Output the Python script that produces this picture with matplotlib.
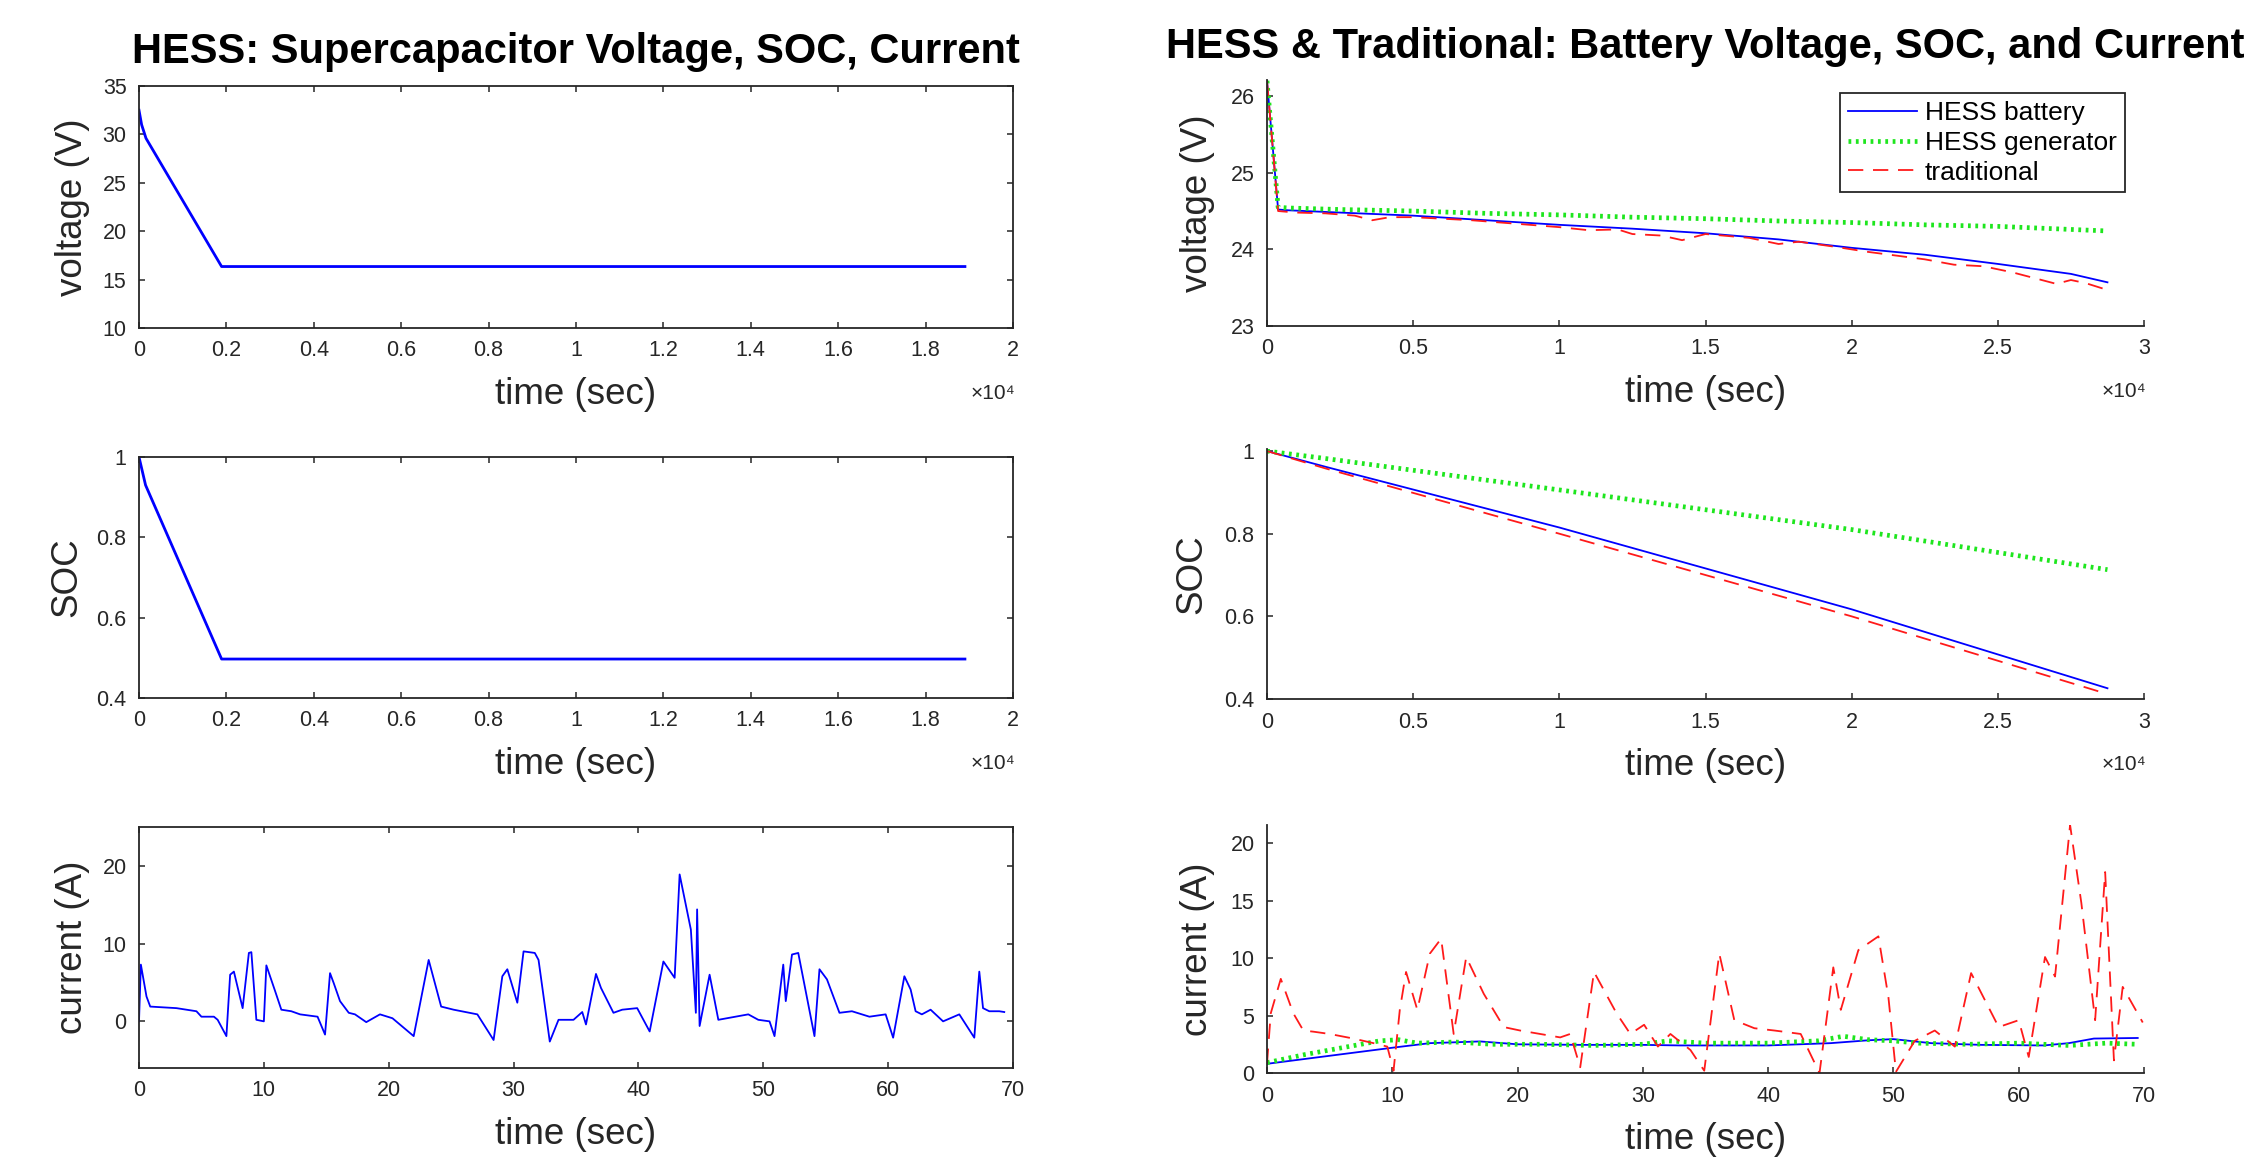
import matplotlib
matplotlib.use('Agg')
import matplotlib.pyplot as plt

plt.rcParams['font.family'] = ['Liberation Sans', 'DejaVu Sans']
plt.rcParams['lines.scale_dashes'] = False

# ---------------- data ----------------
# Supercapacitor (left column)
sc_v_t = [0, 60, 160, 1890, 18900]
sc_v = [32.5, 31.0, 29.6, 16.35, 16.35]
sc_soc_t = [0, 150, 1890, 18900]
sc_soc = [1.0, 0.93, 0.497, 0.497]
sc_i_t = [0, 0.15, 0.6, 0.9, 3.0, 4.6, 5.0, 6.0, 6.3, 7.0, 7.3, 7.6, 8.3, 8.8, 9.0, 9.4, 10.0,
          10.2, 10.9, 11.4, 12.2, 12.9, 14.3, 14.9, 15.3, 15.6, 16.1, 16.8, 17.3, 18.2, 19.3,
          20.3, 22.0, 23.2, 24.2, 25.2, 27.1, 28.4, 29.1, 29.5, 30.3, 30.8, 31.7, 32.0, 32.9,
          33.6, 34.8, 35.5, 35.8, 36.6, 37.0, 38.0, 38.7, 39.9, 40.9, 42.0, 42.9, 43.3, 44.2,
          44.6, 44.7, 44.9, 45.7, 46.4, 48.8, 49.6, 50.5, 50.9, 51.6, 51.8, 52.3, 52.8, 54.1,
          54.5, 55.1, 56.1, 57.1, 58.5, 59.8, 60.4, 61.3, 61.8, 62.2, 62.7, 63.4, 64.4, 65.7,
          66.9, 67.3, 67.6, 68.1, 68.9, 69.3]
sc_i = [0.0, 7.3, 3.2, 1.9, 1.7, 1.3, 0.6, 0.6, 0.2, -1.9, 6.0, 6.4, 1.7, 8.8, 8.9, 0.2, 0.0,
        7.2, 3.9, 1.5, 1.3, 0.9, 0.6, -1.7, 6.2, 4.9, 2.6, 1.1, 0.9, -0.1, 0.9,
        0.4, -1.9, 7.9, 1.9, 1.5, 0.9, -2.4, 5.8, 6.7, 2.4, 9.0, 8.8, 7.9, -2.6,
        0.2, 0.2, 1.2, -0.4, 6.1, 4.3, 1.1, 1.5, 1.7, -1.3, 7.7, 5.6, 18.9, 11.8,
        1.1, 14.4, -0.6, 6.0, 0.2, 0.9, 0.2, 0.0, -1.9, 7.3, 2.6, 8.6, 8.8, -1.9,
        6.7, 5.4, 1.1, 1.3, 0.6, 0.9, -2.1, 5.8, 4.1, 1.3, 0.9, 1.5, 0.0, 0.9,
        -2.1, 6.4, 1.7, 1.3, 1.3, 1.2]

# Battery (right column)
bat_v_t = [0, 380, 720, 2500, 5000, 7500, 10000, 12500, 15000, 17500, 20000, 22500, 25000, 27500, 28750]
hess_bat_v = [26.2, 24.52, 24.51, 24.48, 24.44, 24.38, 24.32, 24.27, 24.21, 24.13, 24.02, 23.93, 23.81, 23.68, 23.57]
hess_gen_v = [26.2, 24.55, 24.54, 24.52, 24.50, 24.47, 24.45, 24.42, 24.40, 24.37, 24.35, 24.32, 24.30, 24.26, 24.24]
trad_v_t = [0, 380, 1000, 2000, 3000, 3600, 4200, 5000, 6000, 7000, 8000, 9000, 10000, 11000, 12000,
            12500, 13500, 14200, 15000, 16500, 17500, 18200, 19500, 20500, 21500, 22500, 23500,
            24500, 25500, 26200, 27000, 27500, 28000, 28750]
trad_v = [26.2, 24.5, 24.48, 24.47, 24.44, 24.38, 24.42, 24.42, 24.40, 24.38, 24.35, 24.32, 24.29, 24.25, 24.26,
          24.20, 24.18, 24.12, 24.20, 24.15, 24.07, 24.10, 24.03, 23.97, 23.92, 23.87, 23.80,
          23.78, 23.70, 23.63, 23.55, 23.60, 23.56, 23.47]
soc_t = [0, 2000, 10000, 20000, 28750]
hess_bat_soc = [1.0, 0.962, 0.815, 0.617, 0.426]
hess_gen_soc = [1.0, 0.982, 0.906, 0.81, 0.713]
trad_soc = [1.0, 0.958, 0.80, 0.60, 0.412]

bat_i_t = [0, 5, 10, 13, 17, 20, 25, 30, 33, 40, 45, 48, 50, 53, 57, 62, 64, 66, 69.5]
hess_bat_i = [0.8, 1.5, 2.2, 2.6, 2.75, 2.5, 2.45, 2.45, 2.4, 2.4, 2.6, 2.85, 2.95, 2.6, 2.45, 2.4, 2.6, 3.0, 3.05]
gen_i_t = [0, 3, 7, 9, 10.5, 12, 15, 18, 22, 26, 30, 32, 35, 40, 44, 46, 48, 50, 52, 56, 60, 64, 67, 69.5]
hess_gen_i = [0.9, 1.6, 2.4, 2.8, 2.9, 2.6, 2.7, 2.5, 2.5, 2.4, 2.5, 2.8, 2.6, 2.6, 2.8, 3.2, 2.9, 2.8, 2.6, 2.5, 2.6, 2.4, 2.6, 2.5]
trad_i_t = [0, 0.3, 1.1, 2.1, 2.9, 3.7, 5.0, 6.9, 8.5, 9.6, 10.1, 10.6, 11.1, 12.0, 13.0, 13.9, 14.9,
            15.9, 17.3, 18.9, 20.2, 21.8, 23.4, 24.2, 25.0, 26.1, 27.9, 29.0, 30.1, 31.2, 32.2,
            33.8, 34.9, 36.1, 37.3, 38.9, 40.5, 42.6, 44.1, 45.2, 45.8, 47.2, 48.8, 49.6, 50.2,
            51.7, 53.3, 54.9, 56.2, 58.4, 60.0, 60.8, 62.1, 62.9, 64.1, 65.0, 66.1, 66.9, 67.6,
            68.3, 69.9]
trad_i = [0.8, 5.2, 8.2, 5.2, 3.7, 3.6, 3.4, 3.0, 2.6, 2.3, 0.2, 5.5, 8.8, 5.5, 10.4, 11.7, 3.4,
          10.1, 6.9, 4.0, 3.7, 3.4, 3.1, 3.4, 0.5, 8.8, 5.2, 3.4, 4.2, 2.3, 3.4,
          2.0, 0.2, 10.4, 4.6, 3.9, 3.7, 3.4, 0.0, 9.2, 5.5, 10.7, 11.9, 6.6, 0.1,
          2.8, 3.7, 2.3, 8.7, 4.0, 4.6, 1.4, 10.1, 8.4, 21.6, 14.8, 4.6, 17.5, 1.1,
          7.5, 4.4]

legend_labels = ['HESS battery', 'HESS generator', 'traditional']
titles = ['HESS: Supercapacitor Voltage, SOC, Current',
          'HESS & Traditional: Battery Voltage, SOC, and Current']

long_ticks_l = [0, 2000, 4000, 6000, 8000, 10000, 12000, 14000, 16000, 18000, 20000]
long_labels_l = ['0', '0.2', '0.4', '0.6', '0.8', '1', '1.2', '1.4', '1.6', '1.8', '2']
long_ticks_r = [0, 5000, 10000, 15000, 20000, 25000, 30000]
long_labels_r = ['0', '0.5', '1', '1.5', '2', '2.5', '3']
short_ticks = [0, 10, 20, 30, 40, 50, 60, 70]

# ---------------- styling ----------------
W, H = 2246, 1158
fig = plt.figure(figsize=(W / 100, H / 100), dpi=100)
GRAY = '0.15'
BLUE = '#0000ff'
GREEN = '#1ee61e'
RED = '#ff1a1a'
TICK_FS = 15.5
LABEL_FS = 26.5


def make_axes(x0, x1, y0, y1):
    return fig.add_axes([x0 / W, 1 - y1 / H, (x1 - x0) / W, (y1 - y0) / H])


def style(ax, box):
    ax.spines['top'].set_visible(box)
    ax.spines['right'].set_visible(box)
    for s in ax.spines.values():
        s.set_linewidth(1.3)
        s.set_color(GRAY)
    ax.tick_params(direction='in', length=4.5, width=1.1, color=GRAY, labelcolor=GRAY,
                   labelsize=TICK_FS, pad=9, top=box, right=box)
    ax.set_xlabel('time (sec)', fontsize=LABEL_FS, color=GRAY, labelpad=11)


def x1e4(ax):
    ax.annotate('\u00d710\u2074', xy=(1, 0), xycoords='axes fraction', xytext=(2, -47),
                textcoords='offset points', ha='right', va='center', fontsize=15, color=GRAY)


def trio(ax, tb, yb, tg, yg, tt, yt):
    l1, = ax.plot(tb, yb, color=BLUE, lw=1.3)
    l2, = ax.plot(tg, yg, color=GREEN, lw=3.4, linestyle=(0, (2, 3.3)), dash_capstyle='butt')
    l3, = ax.plot(tt, yt, color=RED, lw=1.3, linestyle=(0, (11, 7)))
    return [l1, l2, l3]


LX0, LX1 = 139, 1013
RX0, RX1 = 1267, 2144

# Left column
ax1 = make_axes(LX0, LX1, 86, 328)
ax1.plot(sc_v_t, sc_v, color=BLUE, lw=2.0)
ax1.set_xlim(0, 20000); ax1.set_ylim(10, 35)
ax1.set_xticks(long_ticks_l, long_labels_l)
ax1.set_yticks([10, 15, 20, 25, 30, 35])
style(ax1, True)
ax1.set_ylabel('voltage (V)', fontsize=LABEL_FS, color=GRAY, labelpad=9)
x1e4(ax1)

ax2 = make_axes(LX0, LX1, 457, 698)
ax2.plot(sc_soc_t, sc_soc, color=BLUE, lw=2.0)
ax2.set_xlim(0, 20000); ax2.set_ylim(0.4, 1.0)
ax2.set_xticks(long_ticks_l, long_labels_l)
ax2.set_yticks([0.4, 0.6, 0.8, 1.0], ['0.4', '0.6', '0.8', '1'])
style(ax2, True)
ax2.set_ylabel('SOC', fontsize=LABEL_FS, color=GRAY, labelpad=9)
x1e4(ax2)

ax3 = make_axes(LX0, LX1, 827, 1068)
ax3.plot(sc_i_t, sc_i, color=BLUE, lw=1.3)
ax3.set_xlim(0, 70); ax3.set_ylim(-6, 25)
ax3.set_xticks(short_ticks)
ax3.set_yticks([0, 10, 20])
style(ax3, True)
ax3.set_ylabel('current (A)', fontsize=LABEL_FS, color=GRAY, labelpad=9)

# Right column
ax4 = make_axes(RX0, RX1, 80, 326)
lines = trio(ax4, bat_v_t, hess_bat_v, bat_v_t, hess_gen_v, trad_v_t, trad_v)
ax4.set_xlim(0, 30000); ax4.set_ylim(23, 26.21)
ax4.set_xticks(long_ticks_r, long_labels_r)
ax4.set_yticks([23, 24, 25, 26])
style(ax4, False)
ax4.set_ylabel('voltage (V)', fontsize=LABEL_FS, color=GRAY, labelpad=11)
x1e4(ax4)
leg = ax4.legend(lines, legend_labels, loc='upper right', bbox_to_anchor=(0.978, 0.947),
                 fontsize=19, fancybox=False, edgecolor=GRAY, framealpha=1,
                 handlelength=2.6, borderaxespad=0, labelspacing=0.22,
                 handletextpad=0.3, borderpad=0.3)
leg.get_frame().set_linewidth(1.3)

ax5 = make_axes(RX0, RX1, 449, 699)
trio(ax5, soc_t, hess_bat_soc, soc_t, hess_gen_soc, soc_t, trad_soc)
ax5.set_xlim(0, 30000); ax5.set_ylim(0.4, 1.005)
ax5.set_xticks(long_ticks_r, long_labels_r)
ax5.set_yticks([0.4, 0.6, 0.8, 1.0], ['0.4', '0.6', '0.8', '1'])
style(ax5, False)
ax5.set_ylabel('SOC', fontsize=LABEL_FS, color=GRAY, labelpad=11)
x1e4(ax5)

ax6 = make_axes(RX0, RX1, 825, 1073)
trio(ax6, bat_i_t, hess_bat_i, gen_i_t, hess_gen_i, trad_i_t, trad_i)
ax6.set_xlim(0, 70); ax6.set_ylim(0, 21.6)
ax6.set_xticks(short_ticks)
ax6.set_yticks([0, 5, 10, 15, 20])
style(ax6, False)
ax6.set_ylabel('current (A)', fontsize=LABEL_FS, color=GRAY, labelpad=11)

# Titles
fig.text((LX0 + LX1) / 2 / W, 1 - 52 / H, titles[0], ha='center', va='center',
         fontsize=30, fontweight='bold', color='black')
fig.text((RX0 + RX1) / 2 / W, 1 - 47 / H, titles[1], ha='center', va='center',
         fontsize=30, fontweight='bold', color='black')

fig.savefig('out.png', dpi=100, facecolor='white')
